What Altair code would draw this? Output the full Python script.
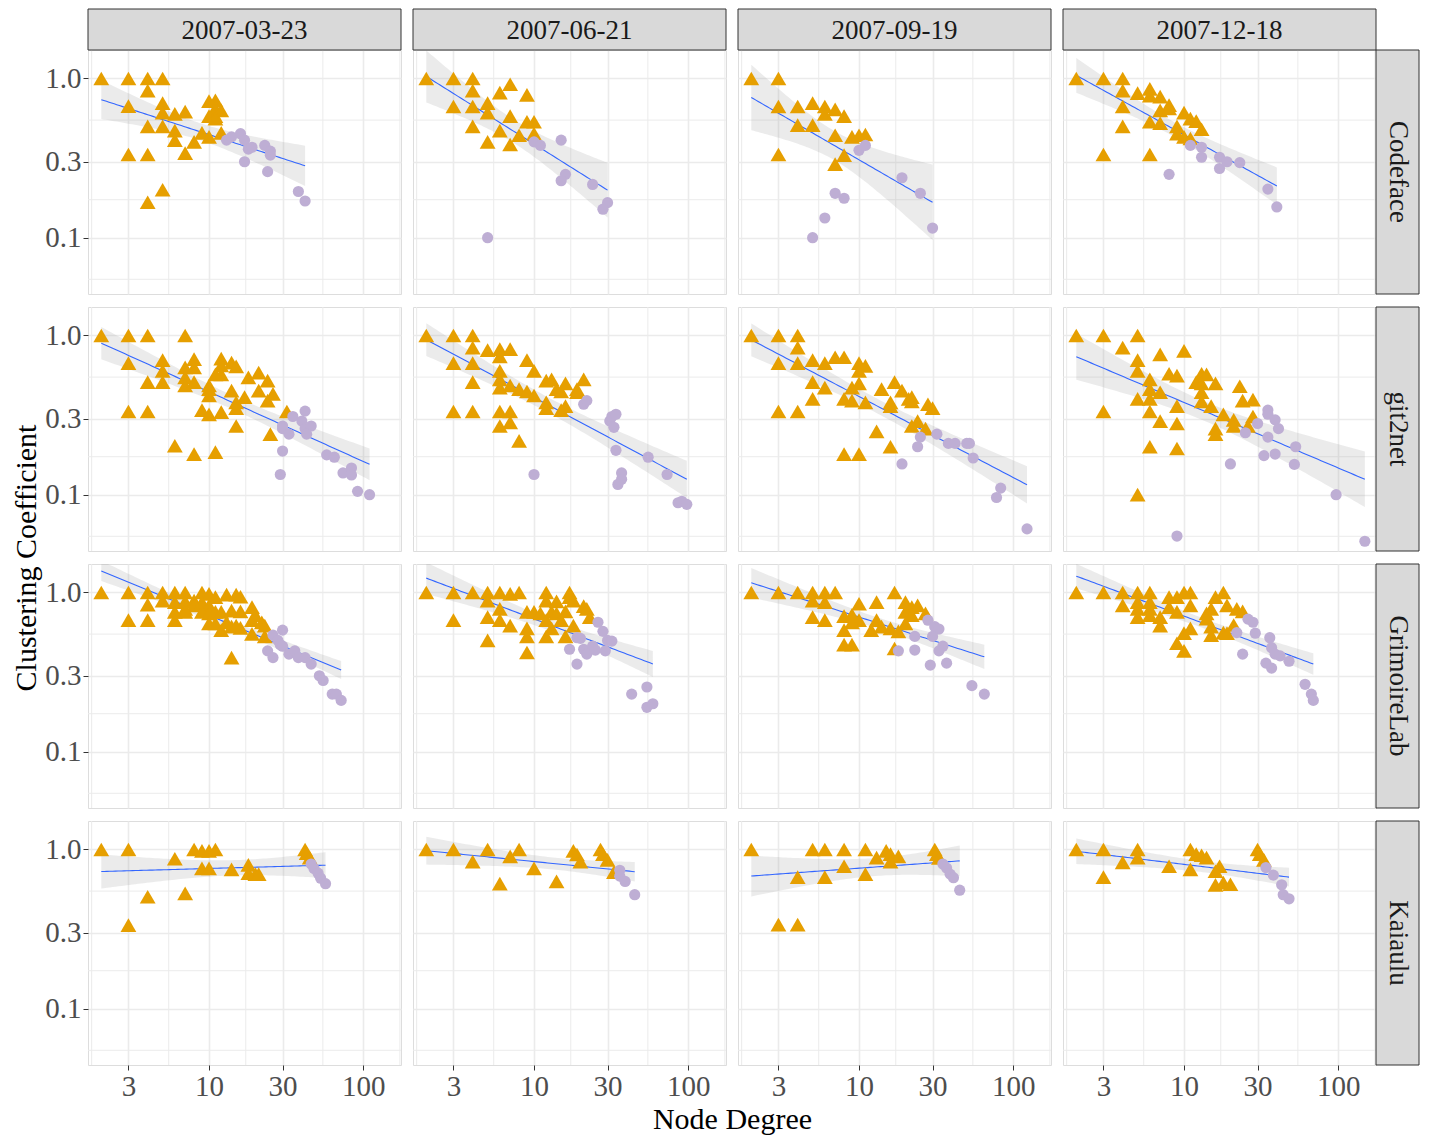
import math
import numpy as np
import pandas as pd
import altair as alt

DATES = ["2007-03-23", "2007-06-21", "2007-09-19", "2007-12-18"]
TOOLS = ["Codeface", "git2net", "GrimoireLab", "Kaiaulu"]

# (node degree, clustering coefficient) per panel; tri = peripheral (triangles), dot = core (circles)
codeface_0323_tri = [(2,1.0),(3,1.0),(4,1.0),(5,1.0),(4,0.84),(3,0.67),(5,0.70),(5,0.61),(6,0.60),(7,0.62),(4,0.50),(5,0.50),(6,0.47),(6,0.41),(8,0.40),(7,0.34),(3,0.333),(4,0.333),(5,0.20),(4,0.167),(9,0.455),(10,0.43),(10,0.72),(11,0.73),(11,0.65),(12,0.63),(10,0.58),(11,0.58),(11,0.56),(12,0.455)]
codeface_0323_dot = [(13,0.41),(14,0.43),(16,0.45),(17,0.41),(17,0.30),(18,0.36),(19,0.37),(23,0.38),(25,0.35),(25,0.33),(24,0.26),(38,0.195),(42,0.17)]
codeface_0621_tri = [(2,1.0),(3,1.0),(4,1.0),(4,0.84),(6,0.815),(7,0.92),(9,0.79),(3,0.667),(4,0.667),(5,0.70),(5,0.61),(7,0.58),(9,0.535),(10,0.535),(4,0.50),(6,0.47),(8,0.44),(10,0.45),(5,0.40),(7,0.385)]
codeface_0621_dot = [(10,0.40),(11,0.38),(15,0.41),(16,0.25),(15,0.228),(24,0.216),(30,0.166),(28,0.151),(5,0.10)]
codeface_0919_tri = [(2,1.0),(3,1.0),(3,0.667),(4,0.667),(5,0.70),(6,0.667),(6,0.60),(7,0.64),(8,0.58),(4,0.51),(5,0.51),(7,0.44),(9,0.43),(10,0.44),(11,0.445),(8,0.33),(3,0.333),(7,0.29)]
codeface_0919_dot = [(10,0.354),(11,0.38),(19,0.238),(25,0.19),(30,0.115),(7,0.19),(8,0.177),(6,0.133),(5,0.10)]
codeface_1218_tri = [(2,1.0),(3,1.0),(4,1.0),(4,0.84),(5,0.81),(6,0.86),(6,0.78),(7,0.77),(4,0.667),(8,0.68),(7,0.63),(8,0.65),(10,0.61),(11,0.56),(12,0.54),(13,0.48),(6,0.535),(7,0.525),(4,0.50),(9,0.50),(9,0.45),(10,0.43),(11,0.42),(3,0.333),(6,0.333)]
codeface_1218_dot = [(11,0.38),(13,0.37),(13,0.32),(17,0.32),(19,0.30),(23,0.296),(17,0.272),(8,0.25),(35,0.202),(40,0.156)]

git2net_0323_tri = [(2,1.0),(3,1.0),(4,1.0),(7,1.0),(3,0.67),(5,0.70),(5,0.60),(4,0.51),(5,0.51),(7,0.63),(7,0.545),(7,0.485),(8,0.71),(8,0.63),(8,0.51),(10,0.485),(10,0.42),(10,0.46),(12,0.715),(12,0.65),(12,0.57),(11,0.57),(14,0.675),(15,0.64),(14,0.45),(18,0.545),(21,0.585),(24,0.52),(21,0.45),(26,0.43),(24,0.39),(17,0.41),(15,0.38),(15,0.35),(15,0.27),(9,0.34),(10,0.32),(12,0.33),(3,0.333),(4,0.333),(32,0.333),(25,0.24),(6,0.203),(8,0.18),(11,0.185)]
git2net_0323_dot = [(30,0.27),(30,0.26),(33,0.24),(35,0.31),(42,0.335),(40,0.29),(42,0.26),(46,0.27),(43,0.24),(30,0.188),(29,0.134),(58,0.178),(65,0.172),(74,0.137),(84,0.147),(84,0.133),(92,0.105),(110,0.10)]
git2net_0621_tri = [(2,1.0),(3,1.0),(4,1.0),(4,0.84),(5,0.81),(6,0.82),(7,0.82),(6,0.74),(9,0.70),(10,0.60),(3,0.67),(4,0.67),(4,0.51),(6,0.60),(6,0.53),(6,0.47),(7,0.485),(8,0.46),(9,0.445),(10,0.42),(12,0.52),(13,0.53),(14,0.46),(15,0.445),(16,0.50),(19,0.46),(21,0.53),(19,0.44),(12,0.38),(12,0.35),(15,0.34),(16,0.36),(3,0.333),(4,0.333),(6,0.333),(7,0.333),(6,0.27),(7,0.285),(8,0.218)]
git2net_0621_dot = [(21,0.37),(22,0.39),(31,0.29),(32,0.31),(34,0.32),(33,0.265),(34,0.19),(37,0.137),(37,0.125),(35,0.116),(10,0.134),(55,0.172),(73,0.134),(86,0.089),(91,0.091),(98,0.087)]
git2net_0919_tri = [(2,1.0),(3,1.0),(4,1.0),(4,0.84),(3,0.67),(4,0.67),(5,0.70),(6,0.67),(7,0.73),(8,0.73),(10,0.67),(10,0.60),(11,0.645),(5,0.51),(6,0.47),(5,0.40),(9,0.47),(10,0.50),(9,0.39),(8,0.40),(11,0.38),(14,0.46),(17,0.51),(19,0.45),(16,0.36),(16,0.38),(21,0.40),(22,0.385),(22,0.41),(28,0.37),(30,0.35),(24,0.29),(22,0.27),(27,0.26),(3,0.333),(4,0.333),(13,0.25),(16,0.20),(8,0.18),(10,0.18)]
git2net_0919_dot = [(25,0.23),(24,0.20),(32,0.24),(38,0.21),(42,0.21),(50,0.21),(52,0.21),(55,0.17),(19,0.156),(83,0.11),(78,0.096),(123,0.061)]
git2net_1218_tri = [(2,1.0),(3,1.0),(5,1.0),(4,0.84),(7,0.76),(10,0.80),(5,0.70),(5,0.60),(8,0.575),(9,0.56),(6,0.53),(6,0.46),(7,0.44),(5,0.40),(6,0.40),(9,0.36),(6,0.333),(3,0.333),(7,0.29),(9,0.28),(6,0.20),(9,0.195),(5,0.10),(12,0.51),(13,0.575),(14,0.57),(13,0.50),(16,0.50),(13,0.44),(13,0.385),(15,0.36),(18,0.32),(21,0.295),(21,0.27),(16,0.26),(16,0.24),(23,0.48),(24,0.39),(28,0.395),(28,0.31),(26,0.27)]
git2net_1218_dot = [(35,0.34),(35,0.32),(39,0.295),(41,0.26),(30,0.28),(25,0.245),(35,0.23),(53,0.20),(33,0.176),(39,0.18),(52,0.155),(20,0.156),(97,0.10),(9,0.055),(149,0.051)]

grimoire_0323_tri = [(2,1.0),(3,1.0),(4,1.0),(5,1.0),(6,1.0),(7,1.0),(9,1.0),(10,0.98),(11,0.935),(13,0.97),(15,0.97),(16,0.94),(4,0.84),(5,0.89),(6,0.87),(7,0.88),(8,0.89),(8,0.83),(9,0.87),(10,0.83),(7,0.79),(7,0.755),(6,0.755),(6,0.67),(3,0.67),(4,0.67),(9,0.755),(10,0.74),(11,0.755),(12,0.755),(14,0.77),(16,0.76),(19,0.81),(10,0.64),(11,0.64),(12,0.58),(13,0.65),(14,0.61),(15,0.62),(16,0.60),(19,0.67),(19,0.55),(20,0.72),(22,0.65),(23,0.62),(23,0.53),(14,0.39)]
grimoire_0323_dot = [(26,0.54),(30,0.58),(28,0.50),(29,0.47),(24,0.43),(26,0.39),(30,0.46),(33,0.41),(36,0.43),(38,0.39),(42,0.39),(46,0.355),(52,0.30),(55,0.28),(63,0.23),(67,0.23),(72,0.21)]
grimoire_0621_tri = [(2,1.0),(3,1.0),(4,1.0),(5,1.0),(6,1.0),(7,0.98),(8,1.0),(12,1.0),(17,1.0),(12,0.89),(17,0.935),(18,0.89),(5,0.89),(14,0.88),(6,0.79),(21,0.82),(22,0.79),(9,0.755),(10,0.755),(11,0.74),(13,0.755),(14,0.74),(16,0.76),(23,0.70),(3,0.67),(5,0.70),(6,0.67),(7,0.62),(12,0.67),(15,0.67),(18,0.62),(9,0.595),(13,0.595),(9,0.53),(12,0.53),(16,0.53),(5,0.50),(9,0.42)]
grimoire_0621_dot = [(26,0.65),(28,0.57),(19,0.52),(20,0.515),(30,0.50),(32,0.495),(17,0.44),(21,0.44),(24,0.46),(22,0.41),(25,0.435),(29,0.43),(19,0.355),(43,0.23),(54,0.255),(54,0.19),(59,0.20)]
grimoire_0919_tri = [(2,1.0),(3,1.0),(4,1.0),(5,1.0),(6,1.0),(7,1.0),(17,1.0),(5,0.89),(6,0.87),(10,0.85),(13,0.87),(20,0.87),(22,0.81),(24,0.83),(5,0.70),(6,0.67),(8,0.71),(9,0.725),(10,0.67),(20,0.755),(22,0.72),(27,0.74),(8,0.58),(9,0.65),(13,0.67),(14,0.61),(12,0.58),(16,0.595),(18,0.57),(20,0.64),(8,0.47),(9,0.47),(17,0.445)]
grimoire_0919_dot = [(28,0.67),(31,0.61),(33,0.59),(30,0.53),(23,0.53),(35,0.46),(33,0.43),(23,0.435),(18,0.43),(29,0.35),(37,0.36),(54,0.26),(65,0.23)]
grimoire_1218_tri = [(2,1.0),(3,1.0),(4,1.0),(5,1.0),(6,1.0),(8,0.935),(9,0.935),(10,1.0),(11,1.0),(16,0.935),(18,1.0),(4,0.83),(5,0.87),(6,0.87),(5,0.79),(6,0.79),(8,0.81),(11,0.83),(19,0.83),(22,0.79),(24,0.76),(5,0.70),(6,0.72),(7,0.70),(9,0.755),(14,0.74),(15,0.79),(14,0.685),(7,0.62),(10,0.555),(11,0.595),(15,0.61),(15,0.54),(18,0.56),(19,0.555),(21,0.625),(9,0.48),(10,0.43)]
grimoire_1218_dot = [(26,0.68),(28,0.65),(22,0.56),(29,0.555),(36,0.52),(37,0.45),(39,0.41),(42,0.40),(48,0.37),(24,0.41),(34,0.36),(37,0.335),(61,0.265),(67,0.23),(69,0.21)]

kaiaulu_0323_tri = [(2,1.0),(3,1.0),(8,1.0),(9,0.98),(10,0.98),(11,1.0),(6,0.875),(9,0.76),(10,0.76),(14,0.75),(18,0.80),(18,0.71),(20,0.70),(21,0.70),(4,0.505),(7,0.53),(3,0.335),(42,1.0),(43,0.95),(45,0.89)]
kaiaulu_0323_dot = [(46,0.81),(48,0.76),(51,0.71),(53,0.66),(57,0.61)]
kaiaulu_0621_tri = [(2,1.0),(3,1.0),(5,1.0),(8,1.0),(4,0.84),(7,0.905),(10,0.76),(6,0.61),(14,0.63),(18,0.98),(19,0.93),(20,0.84),(27,1.0),(28,0.935),(30,0.86),(33,0.72)]
kaiaulu_0621_dot = [(36,0.74),(36,0.68),(39,0.63),(45,0.52)]
kaiaulu_0919_tri = [(2,1.0),(5,1.0),(6,1.0),(8,1.0),(11,1.0),(15,0.98),(16,0.935),(18,0.905),(13,0.89),(16,0.84),(8,0.785),(4,0.67),(6,0.67),(11,0.70),(31,1.0),(32,0.935),(33,0.885),(3,0.337),(4,0.337)]
kaiaulu_0919_dot = [(35,0.81),(37,0.765),(39,0.70),(41,0.665),(45,0.555)]
kaiaulu_1218_tri = [(2,1.0),(3,1.0),(5,1.0),(5,0.89),(4,0.83),(3,0.67),(8,0.785),(11,1.0),(12,0.935),(13,0.92),(14,0.89),(11,0.75),(17,0.785),(16,0.73),(16,0.60),(18,0.62),(20,0.605),(30,1.0),(31,0.935),(33,0.86)]
kaiaulu_1218_dot = [(34,0.77),(38,0.69),(43,0.60),(44,0.52),(48,0.49)]

X_TICKS = [3, 10, 30, 100]
Y_TICKS = [0.1, 0.3, 1.0]
X_MINOR = [1.732, 5.477, 17.32, 54.77, 173.2]
Y_MINOR = [0.0548, 0.1732, 0.5477]

PANELS = {
    ("Codeface", 0): (codeface_0323_tri, codeface_0323_dot),
    ("Codeface", 1): (codeface_0621_tri, codeface_0621_dot),
    ("Codeface", 2): (codeface_0919_tri, codeface_0919_dot),
    ("Codeface", 3): (codeface_1218_tri, codeface_1218_dot),
    ("git2net", 0): (git2net_0323_tri, git2net_0323_dot),
    ("git2net", 1): (git2net_0621_tri, git2net_0621_dot),
    ("git2net", 2): (git2net_0919_tri, git2net_0919_dot),
    ("git2net", 3): (git2net_1218_tri, git2net_1218_dot),
    ("GrimoireLab", 0): (grimoire_0323_tri, grimoire_0323_dot),
    ("GrimoireLab", 1): (grimoire_0621_tri, grimoire_0621_dot),
    ("GrimoireLab", 2): (grimoire_0919_tri, grimoire_0919_dot),
    ("GrimoireLab", 3): (grimoire_1218_tri, grimoire_1218_dot),
    ("Kaiaulu", 0): (kaiaulu_0323_tri, kaiaulu_0323_dot),
    ("Kaiaulu", 1): (kaiaulu_0621_tri, kaiaulu_0621_dot),
    ("Kaiaulu", 2): (kaiaulu_0919_tri, kaiaulu_0919_dot),
    ("Kaiaulu", 3): (kaiaulu_1218_tri, kaiaulu_1218_dot),
}

W, H = 313, 244
STRIP_H, STRIP_W = 41, 43
FONT = "Liberation Serif"
FS = 27
TICK_FS = 29
TITLE_FS = 30
GRID = "#EBEBEB"
DARK = "#333333"

XSCALE = alt.Scale(type="log", domain=[1.64, 176], nice=False)
YSCALE = alt.Scale(type="log", domain=[0.0443, 1.51], nice=False)


def tq975(df):
    z = 1.959964
    return (z + (z**3 + z) / (4 * df) + (5 * z**5 + 16 * z**3 + 3 * z) / (96 * df**2)
            + (3 * z**7 + 19 * z**5 + 17 * z**3 - 15 * z) / (384 * df**3))


def smooth(points):
    lx = np.log10(np.array([p[0] for p in points], dtype=float))
    ly = np.log10(np.array([p[1] for p in points], dtype=float))
    n = len(lx)
    mx, my = lx.mean(), ly.mean()
    sxx = ((lx - mx) ** 2).sum()
    b = ((lx - mx) * (ly - my)).sum() / sxx
    a = my - b * mx
    s = math.sqrt(((ly - a - b * lx) ** 2).sum() / (n - 2))
    g = np.linspace(lx.min(), lx.max(), 80)
    fit = a + b * g
    se = s * np.sqrt(1.0 / n + (g - mx) ** 2 / sxx)
    t = tq975(n - 2)
    return pd.DataFrame({"gx": 10 ** g, "fit": 10 ** fit, "lo": 10 ** (fit - t * se), "hi": 10 ** (fit + t * se)})


def x_axis(show, title):
    kw = dict(values=X_TICKS, format="d", grid=True, gridColor=GRID, gridWidth=1.6,
              labels=show, ticks=show, domain=False, tickColor=DARK, tickSize=5, tickWidth=1,
              labelFont=FONT, labelFontSize=TICK_FS, labelColor="#4D4D4D", labelPadding=2,
              title=None)
    if title:
        kw.update(title="Node Degree", titleX=W + 6, titleFont=FONT, titleFontSize=TITLE_FS,
                  titleFontWeight="normal", titleColor="black", titlePadding=3)
    return alt.Axis(**kw)


def y_axis(show, title):
    kw = dict(values=Y_TICKS, format=".1f", grid=True, gridColor=GRID, gridWidth=1.6,
              labels=show, ticks=show, domain=False, tickColor=DARK, tickSize=5, tickWidth=1,
              labelFont=FONT, labelFontSize=TICK_FS, labelColor="#4D4D4D", labelPadding=2,
              title=None)
    if title:
        kw.update(title="Clustering Coefficient", titleY=H + 6.5, titleFont=FONT, titleFontSize=TITLE_FS,
                  titleFontWeight="normal", titleColor="black", titlePadding=3)
    return alt.Axis(**kw)


def panel(ri, ci):
    tool = TOOLS[ri]
    tri, dot = PANELS[(tool, ci)]
    xa = x_axis(ri == 3, ri == 3 and ci == 1)
    ya = y_axis(ci == 0, ri == 1 and ci == 0)

    def X(f):
        return alt.X(f, type="quantitative", scale=XSCALE, axis=xa)

    def Y(f):
        return alt.Y(f, type="quantitative", scale=YSCALE, axis=ya)

    tri_df = pd.DataFrame(tri, columns=["deg", "cc"])
    dot_df = pd.DataFrame(dot, columns=["deg", "cc"])
    band = smooth(tri + dot)

    minor_x = alt.Chart(pd.DataFrame({"v": X_MINOR})).mark_rule(color=GRID, strokeWidth=1).encode(x=X("v"))
    minor_y = alt.Chart(pd.DataFrame({"v": Y_MINOR})).mark_rule(color=GRID, strokeWidth=1).encode(y=Y("v"))
    area = alt.Chart(band).mark_area(color="#999999", opacity=0.2, clip=True).encode(
        x=X("gx"), y=Y("lo"), y2="hi")
    line = alt.Chart(band).mark_line(color="#3366FF", strokeWidth=1.1, clip=True).encode(x=X("gx"), y=Y("fit"))
    pts_t = alt.Chart(tri_df).mark_point(shape="triangle-up", filled=True, opacity=1,
                                         color="#E69F00", size=250).encode(x=X("deg"), y=Y("cc"))
    pts_c = alt.Chart(dot_df).mark_circle(opacity=1, color="#BEAED4", size=125).encode(x=X("deg"), y=Y("cc"))

    layers = [minor_x, minor_y, area, line, pts_t, pts_c]

    if ri == 0:
        sdf = pd.DataFrame({"lab": [DATES[ci]]})
        layers.append(alt.Chart(sdf).mark_rect(fill="#D9D9D9", stroke=DARK, strokeWidth=1).encode(
            x=alt.value(0), x2=alt.value(W), y=alt.value(-STRIP_H), y2=alt.value(0)))
        layers.append(alt.Chart(sdf).mark_text(font=FONT, fontSize=FS, color="#1A1A1A", baseline="middle").encode(
            x=alt.value(W / 2), y=alt.value(-STRIP_H / 2 + 1), text="lab:N"))
    if ci == 3:
        rdf = pd.DataFrame({"lab": [tool]})
        layers.append(alt.Chart(rdf).mark_rect(fill="#D9D9D9", stroke=DARK, strokeWidth=1).encode(
            x=alt.value(W), x2=alt.value(W + STRIP_W), y=alt.value(0), y2=alt.value(H)))
        layers.append(alt.Chart(rdf).mark_text(font=FONT, fontSize=FS, color="#1A1A1A", baseline="middle",
                                               angle=90).encode(
            x=alt.value(W + STRIP_W / 2), y=alt.value(H / 2), text="lab:N"))

    return alt.layer(*layers).properties(width=W, height=H)


charts = [panel(ri, ci) for ri in range(4) for ci in range(4)]

chart = alt.concat(*charts, columns=4, spacing={"row": 13, "column": 12}, bounds="flush").properties(
    padding={"left": 3, "top": 0, "right": 4, "bottom": 0}
).configure_view(stroke=DARK, strokeWidth=1).configure(background="white")

chart.save("out.html", embed_options={"renderer": "svg", "actions": False})
